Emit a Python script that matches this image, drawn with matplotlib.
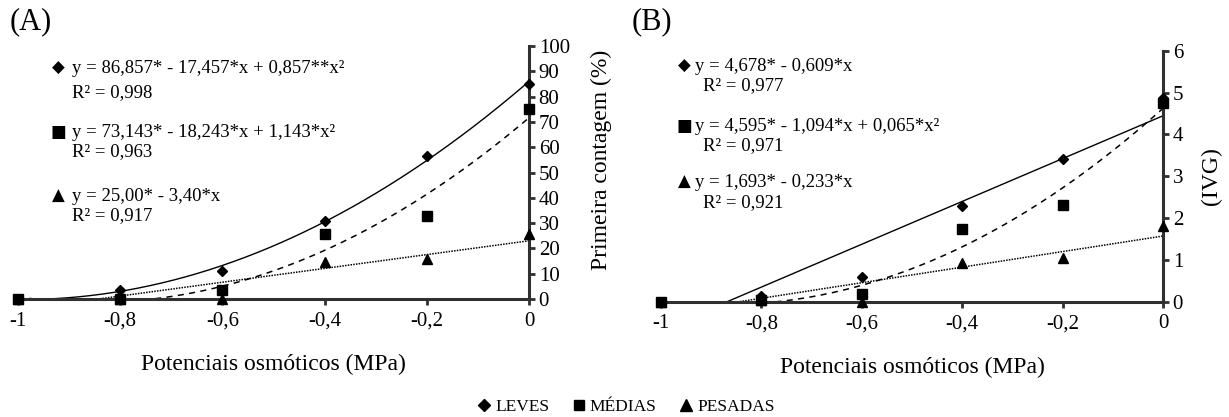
import numpy as np
import matplotlib
matplotlib.use("Agg")
import matplotlib.pyplot as plt
from matplotlib.lines import Line2D

plt.rcParams["font.family"] = ["Liberation Serif", "DejaVu Sans"]

# potenciais osmoticos (MPa)
potenciais = [-1.0, -0.8, -0.6, -0.4, -0.2, 0.0]
x_ticklabels = ["-1", "-0,8", "-0,6", "-0,4", "-0,2", "0"]

# (A) primeira contagem (%)
a_leves = [0, 3.6, 11.2, 31, 56.5, 85]
a_medias = [0, 0, 3.6, 25.7, 32.8, 75]
a_pesadas = [0, 0, 0, 14.5, 16, 25.7]

# (B) IVG
b_leves = [0, 0.14, 0.6, 2.29, 3.42, 4.86]
b_medias = [0, 0.05, 0.18, 1.74, 2.31, 4.76]
b_pesadas = [0, 0.05, 0, 0.92, 1.05, 1.82]

a_eqs = [
    ("◆", "y = 86,857* - 17,457*x + 0,857**x²", "R² = 0,998"),
    ("■", "y = 73,143* - 18,243*x + 1,143*x²", "R² = 0,963"),
    ("▲", "y = 25,00* - 3,40*x", "R² = 0,917"),
]
b_eqs = [
    ("◆", "y = 4,678* - 0,609*x", "R² = 0,977"),
    ("■", "y = 4,595* - 1,094*x + 0,065*x²", "R² = 0,971"),
    ("▲", "y = 1,693* - 0,233*x", "R² = 0,921"),
]
legend_labels = ["LEVES", "MÉDIAS", "PESADAS"]

W, H = 1229, 417
fig = plt.figure(figsize=(W / 100, H / 100), dpi=100)

AXC = "#303030"
series_style = [
    # marker, size, linestyle, lw
    ("D", 5.5, "-", 1.0),
    ("s", 6.5, (0, (4, 3.5)), 1.1),
    ("^", 7.0, (0, (1, 0.8)), 1.1),
]


def px(x, y):
    return x / W, 1 - y / H


def setup_axes(rect, ymax, ystep, ylabel, label_x, label_y):
    ax = fig.add_axes(rect)
    ax.set_xlim(-1, 0)
    ax.set_ylim(0, ymax)
    for s in ("left", "top"):
        ax.spines[s].set_visible(False)
    for s in ("right", "bottom"):
        ax.spines[s].set_linewidth(2.2)
        ax.spines[s].set_color(AXC)
    ax.yaxis.tick_right()
    ax.yaxis.set_label_position("right")
    ax.set_xticks(potenciais)
    ax.set_xticklabels(x_ticklabels)
    ax.set_yticks(np.arange(0, ymax + ystep / 2, ystep))
    ax.tick_params(direction="out", length=4, width=2, color=AXC,
                   labelsize=15, pad=3)
    ax.tick_params(axis="x", pad=5)
    ax.set_xlabel("Potenciais osmóticos (MPa)", fontsize=17, labelpad=17)
    ax.set_ylabel(ylabel, fontsize=17, rotation=90)
    ax.yaxis.set_label_coords(label_x, label_y)
    return ax


def draw_series(ax, values, degrees):
    xs = np.array(potenciais)
    xx = np.linspace(-1, 0, 300)
    for vals, deg, (mk, ms, ls, lw) in zip(values, degrees, series_style):
        # linha de tendencia (ajuste polinomial, como no Excel)
        coef = np.polyfit(xs, vals, deg)
        ax.plot(xx, np.polyval(coef, xx), color="black", ls=ls, lw=lw, zorder=2)
        ax.plot(xs, vals, ls="none", marker=mk, ms=ms, color="black",
                clip_on=False, zorder=3)


def draw_eqs(eqs, mx, tx, rx, eq_y, r_y):
    for (mk, eq, r2), ey, ry in zip(eqs, eq_y, r_y):
        fig.text(*px(mx, ey), mk, fontsize=12, ha="center", va="baseline",
                 family="DejaVu Sans")
        fig.text(*px(tx, ey), eq, fontsize=13.5, ha="left", va="baseline")
        fig.text(*px(rx, ry), r2, fontsize=13.5, ha="left", va="baseline")


axA = setup_axes([18 / W, 1 - 299 / H, 511 / W, 253 / H], 100, 10,
                 "Primeira contagem (%)", 1.12, 0.55)
draw_series(axA, [a_leves, a_medias, a_pesadas], [2, 2, 1])

axB = setup_axes([661 / W, 1 - 301.7 / H, 502 / W, 251 / H], 6, 1,
                 "(IVG)", 1.075, 0.5)
draw_series(axB, [b_leves, b_medias, b_pesadas], [1, 2, 1])

fig.text(*px(10, 22), "(A)", fontsize=22, ha="left", va="center")
fig.text(*px(632, 22), "(B)", fontsize=22, ha="left", va="center")

draw_eqs(a_eqs, 58, 72, 72, [72.7, 137.3, 200.7], [96.7, 156, 220])
draw_eqs(b_eqs, 684, 695, 703, [71, 131, 186.7], [90, 150, 206.7])

handles = [
    Line2D([], [], ls="none", marker=mk, ms=ms + 1, color="black")
    for mk, ms, _, _ in series_style
]
fig.legend(handles, legend_labels, loc="center",
           bbox_to_anchor=(0.51, 1 - 407 / H), ncol=3, frameon=False,
           fontsize=12.5, handlelength=0.6, handletextpad=0.35,
           columnspacing=1.4, borderpad=0)

fig.savefig("out.png", dpi=100, facecolor="white")
